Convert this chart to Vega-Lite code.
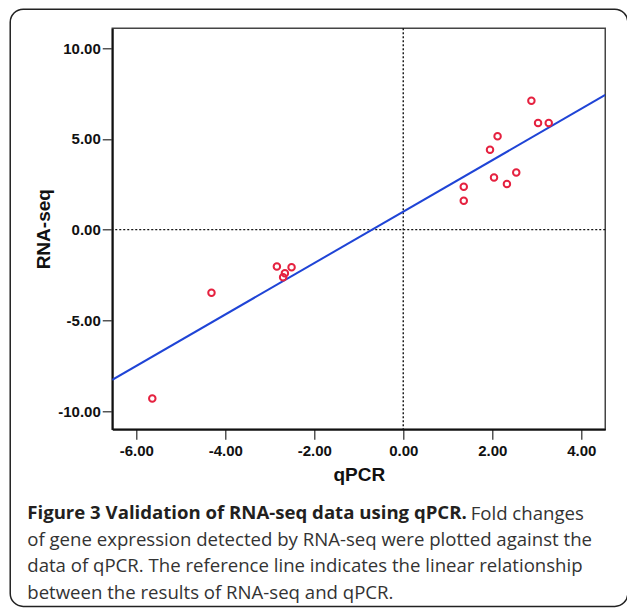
{
  "$schema": "https://vega.github.io/schema/vega-lite/v6.json",
  "padding": {"left": 8.25, "top": 7.25, "right": 0, "bottom": 0},
  "autosize": {"type": "pad"},
  "background": "white",
  "title": {
    "text": "Fold changes",
    "orient": "bottom",
    "anchor": "start",
    "frame": "group",
    "dx": 358.4,
    "offset": -88.25,
    "baseline": "alphabetic",
    "font": "Open Sans",
    "fontSize": 18.6,
    "fontWeight": "normal",
    "color": "#333333"
  },
  "datasets": {
    "genes": [
      {"qpcr": 2.88, "rna": 7.10},
      {"qpcr": 3.03, "rna": 5.88},
      {"qpcr": 3.27, "rna": 5.88},
      {"qpcr": 2.12, "rna": 5.15},
      {"qpcr": 1.95, "rna": 4.41},
      {"qpcr": 2.54, "rna": 3.15},
      {"qpcr": 2.04, "rna": 2.87},
      {"qpcr": 2.33, "rna": 2.51},
      {"qpcr": 1.36, "rna": 2.36},
      {"qpcr": 1.36, "rna": 1.59},
      {"qpcr": -4.31, "rna": -3.48},
      {"qpcr": -2.84, "rna": -2.03},
      {"qpcr": -2.51, "rna": -2.07},
      {"qpcr": -2.66, "rna": -2.40},
      {"qpcr": -2.70, "rna": -2.62},
      {"qpcr": -5.64, "rna": -9.30}
    ],
    "single": [{}]
  },
  "vconcat": [
    {
      "width": 493,
      "height": 401,
      "title": {
        "text": "Figure 3 Validation of RNA-seq data using qPCR.",
        "subtitle": [
          "of gene expression detected by RNA-seq were plotted against the",
          "data of qPCR. The reference line indicates the linear relationship",
          "between the results of RNA-seq and qPCR."
        ],
        "orient": "bottom",
        "anchor": "start",
        "frame": "group",
        "dx": -85,
        "offset": -88.25,
        "baseline": "alphabetic",
        "font": "Open Sans",
        "fontSize": 18.6,
        "fontWeight": "bold",
        "color": "#231f20",
        "subtitleFont": "Open Sans",
        "subtitleFontSize": 18.6,
        "subtitleFontWeight": "normal",
        "subtitleColor": "#333333",
        "subtitleLineHeight": 26.7,
        "subtitlePadding": 8.1
      },
      "layer": [
        {
          "data": {"name": "single"},
          "mark": {"type": "rect", "filled": false, "stroke": "#222222", "strokeWidth": 1.5, "cornerRadius": 13},
          "encoding": {
            "x": {"datum": -8.833, "type": "quantitative", "scale": {"domain": [-6.54, 4.54], "nice": false, "zero": false}},
            "x2": {"datum": 5.047},
            "y": {"datum": 12.147, "type": "quantitative", "scale": {"domain": [-11, 11.1], "nice": false, "zero": false}},
            "y2": {"datum": -20.763}
          }
        },
        {
          "data": {"name": "single"},
          "mark": {"type": "rule", "color": "#111111", "strokeWidth": 1.4, "strokeDash": [2, 2]},
          "encoding": {"y": {"datum": 0, "type": "quantitative"}}
        },
        {
          "data": {"name": "single"},
          "mark": {"type": "rule", "color": "#111111", "strokeWidth": 1.4, "strokeDash": [2, 2]},
          "encoding": {"x": {"datum": 0, "type": "quantitative"}}
        },
        {
          "data": {"name": "genes"},
          "transform": [{"regression": "rna", "on": "qpcr", "extent": [-6.54, 4.54]}],
          "mark": {"type": "line", "color": "#1f44d6", "strokeWidth": 2, "clip": true},
          "encoding": {
            "x": {"field": "qpcr", "type": "quantitative"},
            "y": {"field": "rna", "type": "quantitative"}
          }
        },
        {
          "data": {"name": "genes"},
          "mark": {"type": "point", "shape": "circle", "filled": false, "stroke": "#e5213f", "strokeWidth": 2, "size": 42, "opacity": 1},
          "encoding": {
            "x": {
              "field": "qpcr",
              "type": "quantitative",
              "axis": {
                "title": "qPCR",
                "values": [-6, -4, -2, 0, 2, 4],
                "format": ".2f",
                "labelExpr": "replace(datum.label, '\u2212', '-')",
                "labelPadding": 4,
                "titlePadding": 7
              }
            },
            "y": {
              "field": "rna",
              "type": "quantitative",
              "axis": {
                "title": "RNA-seq",
                "values": [-10, -5, 0, 5, 10],
                "format": ".2f",
                "labelExpr": "replace(datum.label, '\u2212', '-')",
                "labelPadding": 2,
                "titlePadding": 4
              }
            }
          }
        }
      ]
    }
  ],
  "config": {
    "view": {"stroke": "#444444", "strokeWidth": 1.5},
    "axis": {
      "grid": false,
      "domainColor": "#111111",
      "domainWidth": 2,
      "tickColor": "#555555",
      "tickWidth": 1.5,
      "tickSize": 10,
      "labelFont": "Liberation Sans",
      "labelFontSize": 15,
      "labelFontWeight": "bold",
      "labelColor": "#111111",
      "titleFont": "Liberation Sans",
      "titleFontSize": 19,
      "titleFontWeight": "bold",
      "titleColor": "#111111"
    }
  }
}
